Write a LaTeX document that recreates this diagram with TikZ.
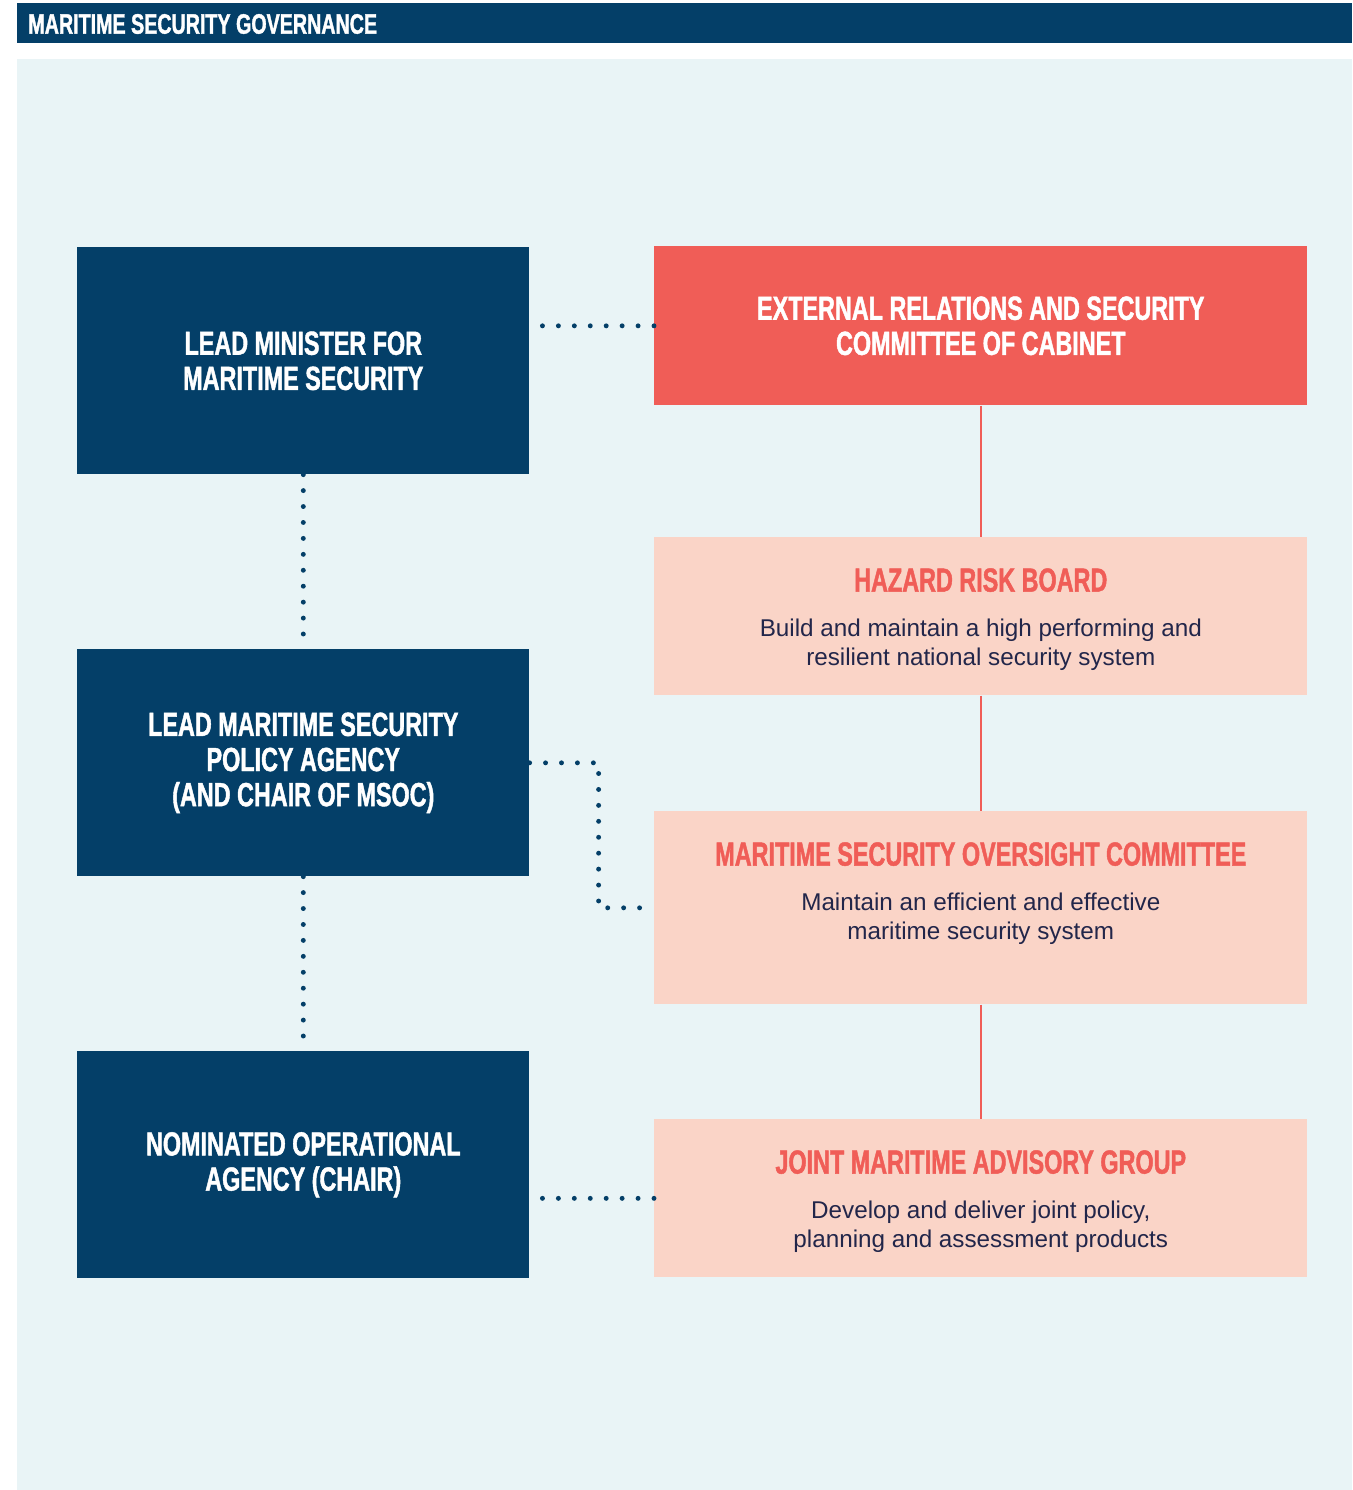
\documentclass[tikz,border=0pt]{standalone}
\usepackage{fontspec}
\setmainfont{Liberation Sans}
\newfontfamily\headfont{Liberation Sans Bold}[FakeStretch=0.70, FakeBold=1.3]
\usetikzlibrary{positioning}
\definecolor{navy}{HTML}{043F68}
\definecolor{coral}{HTML}{F05D57}
\definecolor{blush}{HTML}{FAD4C7}
\definecolor{seafoam}{HTML}{E9F4F6}
\definecolor{inkblue}{HTML}{22264A}
\tikzset{
  navybox/.style={fill=navy, minimum width=9.04cm, minimum height=4.54cm, anchor=north west, inner sep=0pt},
  pinkbox/.style={fill=blush, minimum width=13.06cm, anchor=north west, inner sep=0pt},
  headtext/.style={align=center, inner sep=0pt, font=\headfont\fontsize{19}{20}\selectfont},
  pinktitle/.style={headtext, text=coral},
  pinkdesc/.style={align=center, inner sep=0pt, text=inkblue, font=\fontsize{13.8}{16.4}\selectfont},
  dotline/.style={navy, line width=2.8pt, line cap=round, dash pattern=on 0pt off 9.07pt},
  redline/.style={coral, line width=1.2pt}
}
\begin{document}
\begin{tikzpicture}[x=0.02cm, y=-0.02cm]
    \useasboundingbox (0,0) rectangle (1352,1490);
    % Bandeau du titre
    \fill[navy] (17,3) rectangle (1352,43);
    \node[anchor=west, inner sep=0pt, text=white, font=\headfont\fontsize{16}{17}\selectfont] (titre) at (28,24) {MARITIME SECURITY GOVERNANCE};
    % Fond
    \fill[seafoam] (17,59) rectangle (1352,1490);
    % Colonne de gauche
    \node[navybox] (minister) at (77,247) {};
    \node[navybox] (policy) at (77,649) {};
    \node[navybox] (nominated) at (77,1051) {};
    \node[headtext, text=white] at (minister) {LEAD MINISTER FOR\\MARITIME SECURITY};
    \node[headtext, text=white] at (policy) {LEAD MARITIME SECURITY\\POLICY AGENCY\\(AND CHAIR OF MSOC)};
    \node[headtext, text=white] at (nominated) {NOMINATED OPERATIONAL\\AGENCY (CHAIR)};
    % Colonne de droite
    \node[fill=coral, minimum width=13.06cm, minimum height=3.18cm, anchor=north west, inner sep=0pt] (cabinet) at (654,246) {};
    \node[headtext, text=white] at (cabinet) {EXTERNAL RELATIONS AND SECURITY\\COMMITTEE OF CABINET};
    \node[pinkbox, minimum height=3.16cm] (hazard) at (654,537) {};
    \node[pinkbox, minimum height=3.86cm] (oversight) at (654,811) {};
    \node[pinkbox, minimum height=3.16cm] (advisory) at (654,1119) {};
    % Textes des boites roses
    \node[pinktitle, below=17.6pt of hazard.north] (hazardT) {HAZARD RISK BOARD};
    \node[pinkdesc, below=15pt of hazardT] {Build and maintain a high performing and\\resilient national security system};
    \node[pinktitle, below=17.6pt of oversight.north] (oversightT) {MARITIME SECURITY OVERSIGHT COMMITTEE};
    \node[pinkdesc, below=15pt of oversightT] {Maintain an efficient and effective\\maritime security system};
    \node[pinktitle, below=17.6pt of advisory.north] (advisoryT) {JOINT MARITIME ADVISORY GROUP};
    \node[pinkdesc, below=15pt of advisoryT] {Develop and deliver joint policy,\\planning and assessment products};
    % Liaisons
    \draw[redline] (cabinet.south) -- (hazard.north);
    \draw[redline] (hazard.south) -- (oversight.north);
    \draw[redline] (oversight.south) -- (advisory.north);
    \draw[dotline] (minister.south) -- (policy.north);
    \draw[dotline] (policy.south) -- (nominated.north);
    \draw[dotline] (cabinet.west) -- (cabinet.west -| minister.east);
    \draw[dotline] (policy.east) -- ++(69,0) |- (oversight.west);
    \draw[dotline] (advisory.west) -- (advisory.west -| nominated.east);
\end{tikzpicture}
\end{document}
